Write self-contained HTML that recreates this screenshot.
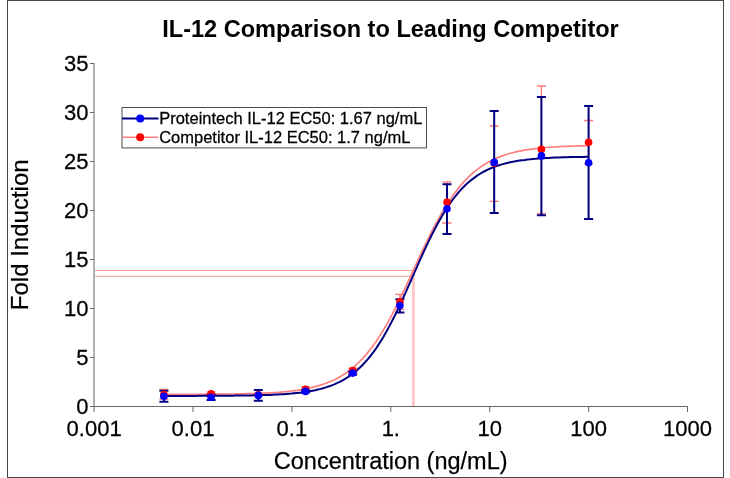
<!DOCTYPE html>
<html lang="en"><head><meta charset="utf-8"><title>IL-12 Comparison to Leading Competitor</title>
<style>html,body{margin:0;padding:0;background:#fff}svg{display:block}text{font-family:"Liberation Sans",Arial,sans-serif;fill:#000}.s{stroke:#000;stroke-width:.25px}</style></head><body>
<svg width="730" height="478" viewBox="0 0 730 478">
<rect x="0" y="0" width="730" height="478" fill="#fff"/>
<rect x="7.5" y="0.5" width="716" height="477" fill="#fff" stroke="#454545" stroke-width="1"/>
<text x="390.5" y="36.6" text-anchor="middle" font-size="23.55" font-weight="bold">IL-12 Comparison to Leading Competitor</text>
<text x="390.7" y="468.8" text-anchor="middle" font-size="23.5" class="s">Concentration (ng/mL)</text>
<text transform="translate(27.7 234.8) rotate(-90)" text-anchor="middle" font-size="24" class="s">Fold Induction</text>
<path d="M94 270.5 H414.1" fill="none" stroke="#ff9c9c" stroke-width="1.1"/>
<path d="M94 276.4 H412.7" fill="none" stroke="#ffacac" stroke-width="1.1"/>
<path d="M412.7 276.4 V406 M414.1 270.5 V406" fill="none" stroke="#ffc6c6" stroke-width="1.4"/>
<rect x="93" y="63" width="2" height="349" fill="#b2b2b2"/>
<rect x="90" y="406" width="598" height="1" fill="#666"/>
<rect x="90" y="406" width="4" height="1" fill="#666"/>
<text transform="translate(88.5 413.5) scale(1 1.04)" text-anchor="end" font-size="22" class="s">0</text>
<rect x="90" y="357" width="4" height="1" fill="#666"/>
<text transform="translate(88.5 365.0) scale(1 1.04)" text-anchor="end" font-size="22" class="s">5</text>
<rect x="90" y="308" width="4" height="1" fill="#666"/>
<text transform="translate(88.5 316.0) scale(1 1.04)" text-anchor="end" font-size="22" class="s">10</text>
<rect x="90" y="259" width="4" height="1" fill="#666"/>
<text transform="translate(88.5 267.0) scale(1 1.04)" text-anchor="end" font-size="22" class="s">15</text>
<rect x="90" y="210" width="4" height="1" fill="#666"/>
<text transform="translate(88.5 218.0) scale(1 1.04)" text-anchor="end" font-size="22" class="s">20</text>
<rect x="90" y="161" width="4" height="1" fill="#666"/>
<text transform="translate(88.5 169.0) scale(1 1.04)" text-anchor="end" font-size="22" class="s">25</text>
<rect x="90" y="112" width="4" height="1" fill="#666"/>
<text transform="translate(88.5 120.0) scale(1 1.04)" text-anchor="end" font-size="22" class="s">30</text>
<rect x="90" y="63" width="4" height="1" fill="#666"/>
<text transform="translate(88.5 71.0) scale(1 1.04)" text-anchor="end" font-size="22" class="s">35</text>
<text transform="translate(94.1 435.8) scale(1 1.03)" text-anchor="middle" font-size="22" class="s">0.001</text>
<rect x="192.5" y="406" width="1" height="6" fill="#666"/>
<text transform="translate(193.0 435.8) scale(1 1.03)" text-anchor="middle" font-size="22" class="s">0.01</text>
<rect x="291.4" y="406" width="1" height="6" fill="#666"/>
<text transform="translate(291.9 435.8) scale(1 1.03)" text-anchor="middle" font-size="22" class="s">0.1</text>
<rect x="390.3" y="406" width="1" height="6" fill="#666"/>
<text transform="translate(390.8 435.8) scale(1 1.03)" text-anchor="middle" font-size="22" class="s">1.</text>
<rect x="489.2" y="406" width="1" height="6" fill="#666"/>
<text transform="translate(489.7 435.8) scale(1 1.03)" text-anchor="middle" font-size="22" class="s">10</text>
<rect x="588.1" y="406" width="1" height="6" fill="#666"/>
<text transform="translate(588.6 435.8) scale(1 1.03)" text-anchor="middle" font-size="22" class="s">100</text>
<rect x="687.0" y="406" width="1" height="6" fill="#666"/>
<text transform="translate(687.5 435.8) scale(1 1.03)" text-anchor="middle" font-size="22" class="s">1000</text>
<path d="M163.9 394.4 L166.6 394.4 L169.2 394.4 L171.9 394.4 L174.5 394.4 L177.2 394.4 L179.8 394.4 L182.5 394.4 L185.1 394.4 L187.8 394.4 L190.5 394.3 L193.1 394.3 L195.8 394.3 L198.4 394.3 L201.1 394.3 L203.7 394.3 L206.4 394.3 L209.0 394.2 L211.7 394.2 L214.3 394.2 L217.0 394.2 L219.7 394.2 L222.3 394.1 L225.0 394.1 L227.6 394.1 L230.3 394.0 L232.9 394.0 L235.6 393.9 L238.2 393.9 L240.9 393.8 L243.5 393.8 L246.2 393.7 L248.9 393.7 L251.5 393.6 L254.2 393.5 L256.8 393.4 L259.5 393.3 L262.1 393.2 L264.8 393.1 L267.4 392.9 L270.1 392.8 L272.7 392.6 L275.4 392.5 L278.0 392.3 L280.7 392.1 L283.4 391.8 L286.0 391.6 L288.7 391.3 L291.3 391.0 L294.0 390.7 L296.6 390.3 L299.3 389.9 L301.9 389.5 L304.6 389.0 L307.2 388.5 L309.9 387.9 L312.6 387.3 L315.2 386.7 L317.9 385.9 L320.5 385.1 L323.2 384.3 L325.8 383.3 L328.5 382.3 L331.1 381.2 L333.8 380.0 L336.4 378.7 L339.1 377.2 L341.8 375.7 L344.4 374.0 L347.1 372.2 L349.7 370.3 L352.4 368.2 L355.0 365.9 L357.7 363.5 L360.3 360.9 L363.0 358.1 L365.6 355.1 L368.3 351.9 L370.9 348.6 L373.6 345.0 L376.3 341.2 L378.9 337.2 L381.6 333.0 L384.2 328.6 L386.9 324.1 L389.5 319.3 L392.2 314.3 L394.8 309.2 L397.5 303.9 L400.1 298.5 L402.8 293.0 L405.5 287.4 L408.1 281.7 L410.8 275.9 L413.4 270.2 L416.1 264.4 L418.7 258.6 L421.4 252.9 L424.0 247.3 L426.7 241.8 L429.3 236.3 L432.0 231.0 L434.7 225.9 L437.3 220.9 L440.0 216.1 L442.6 211.5 L445.3 207.1 L447.9 202.9 L450.6 198.9 L453.2 195.1 L455.9 191.5 L458.5 188.1 L461.2 184.9 L463.8 181.9 L466.5 179.1 L469.2 176.4 L471.8 174.0 L474.5 171.7 L477.1 169.6 L479.8 167.6 L482.4 165.8 L485.1 164.1 L487.7 162.5 L490.4 161.1 L493.0 159.8 L495.7 158.5 L498.4 157.4 L501.0 156.4 L503.7 155.4 L506.3 154.5 L509.0 153.7 L511.6 153.0 L514.3 152.3 L516.9 151.7 L519.6 151.1 L522.2 150.6 L524.9 150.1 L527.6 149.7 L530.2 149.3 L532.9 148.9 L535.5 148.6 L538.2 148.3 L540.8 148.0 L543.5 147.8 L546.1 147.5 L548.8 147.3 L551.4 147.1 L554.1 147.0 L556.7 146.8 L559.4 146.7 L562.1 146.5 L564.7 146.4 L567.4 146.3 L570.0 146.2 L572.7 146.1 L575.3 146.0 L578.0 145.9 L580.6 145.9 L583.3 145.8 L585.9 145.7 L588.6 145.7" fill="none" stroke="#ff8080" stroke-width="1.7"/>
<path d="M163.9 389.5 V399.0 M159.4 389.5 h9 M159.4 399.0 h9" fill="none" stroke="#ff7878" stroke-width="1.3"/>
<path d="M211.1 391.8 V395.9 M206.6 391.8 h9 M206.6 395.9 h9" fill="none" stroke="#ff7878" stroke-width="1.3"/>
<path d="M258.3 393.6 V396.0 M253.8 393.6 h9 M253.8 396.0 h9" fill="none" stroke="#ff7878" stroke-width="1.3"/>
<path d="M305.5 386.8 V392.0 M301.0 386.8 h9 M301.0 392.0 h9" fill="none" stroke="#ff7878" stroke-width="1.3"/>
<path d="M352.7 368.2 V373.0 M348.2 368.2 h9 M348.2 373.0 h9" fill="none" stroke="#ff7878" stroke-width="1.3"/>
<path d="M399.9 294.4 V309.4 M395.4 294.4 h9 M395.4 309.4 h9" fill="none" stroke="#ff7878" stroke-width="1.3"/>
<path d="M447.0 181.9 V223.0 M442.5 181.9 h9 M442.5 223.0 h9" fill="none" stroke="#ff7878" stroke-width="1.3"/>
<path d="M494.2 126.0 V201.4 M489.7 126.0 h9 M489.7 201.4 h9" fill="none" stroke="#ff7878" stroke-width="1.3"/>
<path d="M541.4 86.0 V213.7 M536.9 86.0 h9 M536.9 213.7 h9" fill="none" stroke="#ff7878" stroke-width="1.3"/>
<path d="M588.6 120.5 V163.9 M584.1 120.5 h9 M584.1 163.9 h9" fill="none" stroke="#ff7878" stroke-width="1.3"/>
<path d="M163.9 395.9 L166.6 395.9 L169.2 395.9 L171.9 395.9 L174.5 395.9 L177.2 395.9 L179.8 395.9 L182.5 395.9 L185.1 395.9 L187.8 395.9 L190.5 395.9 L193.1 395.9 L195.8 395.9 L198.4 395.8 L201.1 395.8 L203.7 395.8 L206.4 395.8 L209.0 395.8 L211.7 395.8 L214.3 395.8 L217.0 395.8 L219.7 395.8 L222.3 395.7 L225.0 395.7 L227.6 395.7 L230.3 395.7 L232.9 395.7 L235.6 395.6 L238.2 395.6 L240.9 395.6 L243.5 395.5 L246.2 395.5 L248.9 395.4 L251.5 395.4 L254.2 395.3 L256.8 395.3 L259.5 395.2 L262.1 395.1 L264.8 395.0 L267.4 395.0 L270.1 394.9 L272.7 394.7 L275.4 394.6 L278.0 394.5 L280.7 394.3 L283.4 394.2 L286.0 394.0 L288.7 393.8 L291.3 393.6 L294.0 393.3 L296.6 393.0 L299.3 392.7 L301.9 392.4 L304.6 392.0 L307.2 391.6 L309.9 391.2 L312.6 390.7 L315.2 390.2 L317.9 389.6 L320.5 388.9 L323.2 388.2 L325.8 387.4 L328.5 386.5 L331.1 385.6 L333.8 384.6 L336.4 383.4 L339.1 382.2 L341.8 380.8 L344.4 379.3 L347.1 377.7 L349.7 375.9 L352.4 374.0 L355.0 371.9 L357.7 369.6 L360.3 367.2 L363.0 364.5 L365.6 361.7 L368.3 358.6 L370.9 355.3 L373.6 351.8 L376.3 348.1 L378.9 344.1 L381.6 339.9 L384.2 335.5 L386.9 330.8 L389.5 325.9 L392.2 320.8 L394.8 315.6 L397.5 310.1 L400.1 304.5 L402.8 298.7 L405.5 292.8 L408.1 286.9 L410.8 280.9 L413.4 274.9 L416.1 268.8 L418.7 262.9 L421.4 256.9 L424.0 251.1 L426.7 245.4 L429.3 239.9 L432.0 234.5 L434.7 229.3 L437.3 224.3 L440.0 219.5 L442.6 214.9 L445.3 210.6 L447.9 206.5 L450.6 202.6 L453.2 199.0 L455.9 195.6 L458.5 192.4 L461.2 189.4 L463.8 186.7 L466.5 184.1 L469.2 181.8 L471.8 179.6 L474.5 177.6 L477.1 175.7 L479.8 174.0 L482.4 172.4 L485.1 171.0 L487.7 169.7 L490.4 168.5 L493.0 167.4 L495.7 166.4 L498.4 165.5 L501.0 164.6 L503.7 163.9 L506.3 163.2 L509.0 162.6 L511.6 162.0 L514.3 161.5 L516.9 161.0 L519.6 160.6 L522.2 160.2 L524.9 159.9 L527.6 159.5 L530.2 159.3 L532.9 159.0 L535.5 158.8 L538.2 158.5 L540.8 158.3 L543.5 158.2 L546.1 158.0 L548.8 157.9 L551.4 157.7 L554.1 157.6 L556.7 157.5 L559.4 157.4 L562.1 157.3 L564.7 157.2 L567.4 157.2 L570.0 157.1 L572.7 157.1 L575.3 157.0 L578.0 157.0 L580.6 156.9 L583.3 156.9 L585.9 156.8 L588.6 156.8" fill="none" stroke="#000080" stroke-width="2"/>
<path d="M163.9 390.7 V401.8 M159.4 390.7 h9 M159.4 401.8 h9" fill="none" stroke="#000080" stroke-width="2"/>
<path d="M211.1 394.5 V400.0 M206.6 394.5 h9 M206.6 400.0 h9" fill="none" stroke="#000080" stroke-width="2"/>
<path d="M258.3 390.0 V400.8 M253.8 390.0 h9 M253.8 400.8 h9" fill="none" stroke="#000080" stroke-width="2"/>
<path d="M305.5 390.3 V392.6 M301.0 390.3 h9 M301.0 392.6 h9" fill="none" stroke="#000080" stroke-width="2"/>
<path d="M352.7 371.4 V374.7 M348.2 371.4 h9 M348.2 374.7 h9" fill="none" stroke="#000080" stroke-width="2"/>
<path d="M399.9 299.3 V312.4 M395.4 299.3 h9 M395.4 312.4 h9" fill="none" stroke="#000080" stroke-width="2"/>
<path d="M447.0 184.3 V234.1 M442.5 184.3 h9 M442.5 234.1 h9" fill="none" stroke="#000080" stroke-width="2"/>
<path d="M494.2 111.1 V213.1 M489.7 111.1 h9 M489.7 213.1 h9" fill="none" stroke="#000080" stroke-width="2"/>
<path d="M541.4 97.0 V215.2 M536.9 97.0 h9 M536.9 215.2 h9" fill="none" stroke="#000080" stroke-width="2"/>
<path d="M588.6 106.1 V218.9 M584.1 106.1 h9 M584.1 218.9 h9" fill="none" stroke="#000080" stroke-width="2"/>
<circle cx="163.9" cy="394.5" r="3.8" fill="#f00"/>
<circle cx="211.1" cy="393.8" r="3.8" fill="#f00"/>
<circle cx="258.3" cy="394.8" r="3.8" fill="#f00"/>
<circle cx="305.5" cy="389.4" r="3.8" fill="#f00"/>
<circle cx="352.7" cy="370.6" r="3.8" fill="#f00"/>
<circle cx="399.9" cy="301.9" r="3.8" fill="#f00"/>
<circle cx="447.0" cy="202.3" r="3.8" fill="#f00"/>
<circle cx="494.2" cy="163.3" r="3.8" fill="#f00"/>
<circle cx="541.4" cy="149.4" r="3.8" fill="#f00"/>
<circle cx="588.6" cy="142.2" r="3.8" fill="#f00"/>
<circle cx="163.9" cy="396.2" r="3.8" fill="#00f"/>
<circle cx="211.1" cy="397.3" r="3.8" fill="#00f"/>
<circle cx="258.3" cy="395.4" r="3.8" fill="#00f"/>
<circle cx="305.5" cy="391.4" r="3.8" fill="#00f"/>
<circle cx="352.7" cy="373.1" r="3.8" fill="#00f"/>
<circle cx="399.9" cy="305.6" r="3.8" fill="#00f"/>
<circle cx="447.0" cy="208.7" r="3.8" fill="#00f"/>
<circle cx="494.2" cy="162.4" r="3.8" fill="#00f"/>
<circle cx="541.4" cy="155.9" r="3.8" fill="#00f"/>
<circle cx="588.6" cy="162.7" r="3.8" fill="#00f"/>
<rect x="122" y="107.5" width="304.5" height="40.4" fill="#fff" stroke="#4a4a4a" stroke-width="1"/>
<path d="M122 118.5 H158.5" stroke="#000080" stroke-width="2"/>
<circle cx="140.2" cy="118.5" r="4" fill="#00f"/>
<path d="M122 137.2 H158.5" stroke="#ff8080" stroke-width="1.5"/>
<circle cx="140.2" cy="137.2" r="4" fill="#f00"/>
<text transform="translate(159.2 124.2) scale(1 1.04)" font-size="16.5" class="s">Proteintech IL-12 EC50: 1.67 ng/mL</text>
<text transform="translate(159.2 143) scale(1 1.04)" font-size="16.5" class="s">Competitor IL-12 EC50: 1.7 ng/mL</text>
</svg></body></html>
